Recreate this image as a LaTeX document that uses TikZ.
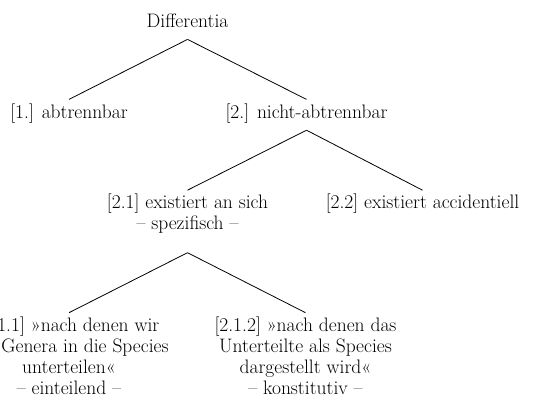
\documentclass[tikz,border=0pt]{standalone}
\usepackage{fontspec}
\usetikzlibrary{positioning}

\begin{document}
\begin{tikzpicture}[-,line width=0.8pt,node distance=60pt,font=\fontsize{19.5}{21}\selectfont]
  \tikzstyle{every node}=[align=center,inner sep=0pt,inner ysep=5pt]
  \tikzstyle{sgl}=[text height=13.3pt,text depth=6.7pt]
  \tikzstyle{two}=[text height=34.3pt,text depth=17.4pt]
  \tikzstyle{four}=[text height=76.3pt]
  \useasboundingbox (0,0) rectangle (536pt,-401pt);

  \node[sgl,anchor=base] (diff) at (187.5pt,-27.3pt) {Differentia};
  \node[sgl]  (abtr)   [below=of diff,xshift=-118.5pt] {[1.] abtrennbar};
  \node[sgl]  (nabtr)  [below=of diff,xshift=119pt]    {[2.] nicht-abtrennbar};
  \node[two]  (ansich) [below=of nabtr,xshift=-119pt]
    {[2.1] existiert an sich\\ \textendash{} spezifisch \textendash};
  \node[sgl]  (accid)  [below=of nabtr,xshift=116pt]   {[2.2] existiert accidentiell};
  \node[four] (eint)   [below=of ansich,xshift=-118.5pt]
    {[2.1.1] »nach denen wir\\ \hspace*{32pt}Genera in die Species\\ unterteilen«\\ \textendash{} einteilend \textendash};
  \node[four] (konst)  [below=of ansich,xshift=118pt]
    {[2.1.2] »nach denen das\\ Unterteilte als Species\\ dargestellt wird«\\ \textendash{} konstitutiv \textendash};

  \path
  (diff.south) edge (abtr.north)
               edge (nabtr.north)
  (nabtr.south) edge (ansich.north)
                edge (accid.north)
  (ansich.south) edge (eint.north)
                 edge (konst.north);
\end{tikzpicture}
\end{document}
